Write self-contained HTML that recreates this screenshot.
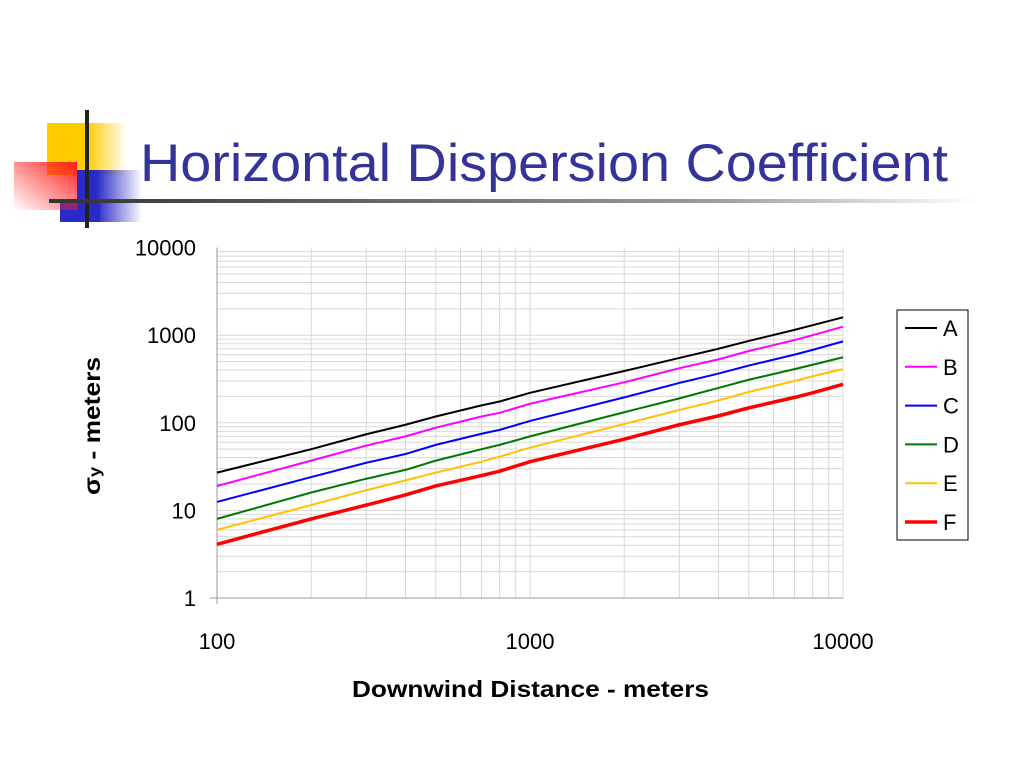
<!DOCTYPE html>
<html><head><meta charset="utf-8"><style>
body{margin:0;width:1024px;height:768px;background:#fff;overflow:hidden;font-family:"Liberation Sans",sans-serif}
</style></head><body>
<svg width="1024" height="768">
<defs>
<linearGradient id="gy" x1="0" x2="1"><stop offset="0.5" stop-color="#ffcc00"/><stop offset="1" stop-color="#ffcc00" stop-opacity="0"/></linearGradient>
<linearGradient id="gr" x1="1" y1="0" x2="0" y2="1"><stop offset="0" stop-color="#ff2020"/><stop offset="1" stop-color="#ff2020" stop-opacity="0"/></linearGradient>
<linearGradient id="gb" x1="0" x2="1"><stop offset="0.3" stop-color="#2a2ac8"/><stop offset="1" stop-color="#2a2ac8" stop-opacity="0"/></linearGradient>
<linearGradient id="gl" x1="0" x2="1"><stop offset="0" stop-color="#333"/><stop offset="0.7" stop-color="#999"/><stop offset="1" stop-color="#fff"/></linearGradient>
</defs>
<g>
<rect x="47" y="123" width="80" height="52" fill="url(#gy)"/>
<rect x="77" y="170" width="65" height="52" fill="url(#gb)"/>
<rect x="60" y="200" width="40" height="22" fill="#2a2ac8"/>
<rect x="14" y="162" width="63" height="48" fill="url(#gr)"/>
<rect x="85" y="110" width="4" height="118" fill="#222"/>
<rect x="49" y="199" width="930" height="4" fill="url(#gl)"/>
</g>
<text x="140" y="181" font-size="53" fill="#333399" textLength="808" lengthAdjust="spacingAndGlyphs">Horizontal Dispersion Coefficient</text>
<g id="grid"></g>
<g id="series"></g>
<g id="ticks" font-size="22" fill="#000"></g>
<text x="352" y="697" font-size="23" font-weight="bold" textLength="357" lengthAdjust="spacingAndGlyphs">Downwind Distance - meters</text>
<text transform="translate(100,495) rotate(-90)" font-size="23" font-weight="bold" textLength="138" lengthAdjust="spacingAndGlyphs">σ<tspan font-size="16">y</tspan> - meters</text>
<rect x="897" y="310" width="71" height="230" fill="#fff" stroke="#000" stroke-width="1"/>
<g id="legend" font-size="22"></g>
</svg>
<script>
const xs=[100,200,300,400,500,700,800,1000,2000,3000,4000,5000,7000,8000,10000];
const seriesNames=['A','B','C','D','E','F'];
const seriesColors=['#000000','#ff00ff','#0000ff','#007700','#ffc000','#ff0000'];
const seriesWidths=[2,2,2,2,2,3.5];
const valsA=[27,50,74,95,118,158,175,220,390,550,700,860,1150,1300,1600];
const valsB=[19,37,55,70,88,118,130,165,290,420,530,660,880,1000,1250];
const valsC=[12.5,24,35,44,56,75,83,105,195,285,365,450,600,680,850];
const valsD=[8,16,23,29,37,50,56,70,132,190,250,310,410,460,560];
const valsE=[6,11.5,17,22,27,36,41,52,97,140,180,225,300,340,410];
const valsF=[4.1,8,11.5,15,19,25,28,36,65,95,120,148,195,220,275];
const allVals=[valsA,valsB,valsC,valsD,valsE,valsF];
const xTicks=[100,1000,10000];
const yTicks=[1,10,100,1000,10000];
const X=v=>217+(Math.log10(v)-2)*313;
const Y=v=>598-Math.log10(v)*87.6;
const NS='http://www.w3.org/2000/svg';
function mk(t,a,p){const e=document.createElementNS(NS,t);for(const k in a)e.setAttribute(k,a[k]);p.appendChild(e);return e;}
const g=document.getElementById('grid');
for(let d=0;d<4;d++)for(let m=1;m<10;m++){const v=Math.pow(10,d)*m;
 const l=mk('line',{x1:217,x2:843,y1:Y(v),y2:Y(v),stroke:'#d8d8d8','stroke-width':1},g);
 
 }
for(let d=2;d<4;d++)for(let m=1;m<10;m++){const v=Math.pow(10,d)*m;
 const l=mk('line',{x1:X(v),x2:X(v),y1:Y(10000),y2:Y(1),stroke:'#d8d8d8','stroke-width':1},g);
 
 }
mk('line',{x1:843,x2:843,y1:Y(10000),y2:Y(1),stroke:'#d8d8d8'},g);
mk('line',{x1:217,x2:217,y1:Y(10000),y2:Y(1)+6,stroke:'#999'},g);
mk('line',{x1:210,x2:843,y1:Y(1),y2:Y(1),stroke:'#999'},g);
const tk=document.getElementById('ticks');
yTicks.forEach(v=>{const t=mk('text',{x:196,y:Y(v)+8,'text-anchor':'end'},tk);t.textContent=v;
 
 });
xTicks.forEach(v=>{const t=mk('text',{x:X(v),y:649,'text-anchor':'middle'},tk);t.textContent=v;
 
 });
const sg=document.getElementById('series');
allVals.forEach((vals,i)=>{
 const p=mk('polyline',{points:vals.map((v,j)=>X(xs[j])+','+Y(v)).join(' '),fill:'none',stroke:seriesColors[i],'stroke-width':seriesWidths[i]},sg);
 
 });
const lg=document.getElementById('legend');
seriesNames.forEach((n,i)=>{const y=328+i*38.8;
 const e=mk('g',{},lg);
 
 
 mk('line',{x1:905,x2:937,y1:y,y2:y,stroke:seriesColors[i],'stroke-width':seriesWidths[i]},e);
 const t=mk('text',{x:943,y:y+8},e);t.textContent=n;});
</script>
</body></html>
